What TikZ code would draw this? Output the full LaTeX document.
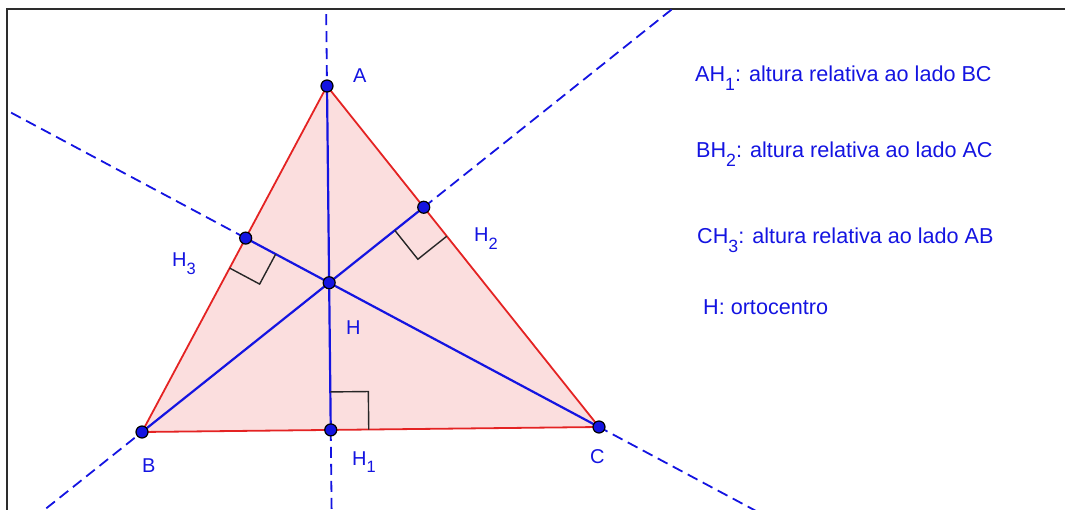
\documentclass[tikz,border=0pt]{standalone}
\usepackage{fontspec}
\setmainfont{Liberation Sans}
\usepackage{tikz}
\usetikzlibrary{calc}
\definecolor{ggblue}{RGB}{20,20,225}
\definecolor{ggred}{RGB}{228,35,35}
\definecolor{ggfill}{RGB}{251,222,222}
\definecolor{framegray}{RGB}{45,45,45}
\newcommand{\lowsub}[1]{\raisebox{-0.38em}{\scalebox{0.82}{#1}}}

\begin{document}
\begin{tikzpicture}[
    x=1pt, y=-1pt,
    dot/.style={circle, draw=black, fill=ggblue, line width=1.2pt, inner sep=0pt, minimum size=12pt},
    lbl/.style={anchor=base west, text=ggblue, inner sep=0pt, font=\fontsize{20}{24}\selectfont},
    note/.style={anchor=base west, text=ggblue, inner sep=0pt, font=\fontsize{21.6}{26}\selectfont},
    side/.style={draw=ggred, line width=1.8pt},
    alt/.style={draw=ggblue, line width=2.2pt},
    ext/.style={draw=ggblue, line width=1.8pt, dash pattern=on 11pt off 6pt},
    mark90/.style={draw=black!85, line width=1.4pt},
    frameline/.style={draw=framegray, line width=2pt}
]
    \useasboundingbox (0,0) rectangle (1065,510);
    \draw[frameline] (7,510) -- (7,9) -- (1065,9);

    \coordinate (A) at (327,86);
    \coordinate (B) at (142,432);
    \coordinate (C) at (599,427);
    \coordinate (H1) at ($(B)!(A)!(C)$);
    \coordinate (H2) at ($(A)!(B)!(C)$);
    \coordinate (H3) at ($(A)!(C)!(B)$);
    \coordinate (H) at (intersection of A--H1 and B--H2);

    \fill[ggfill] (A) -- (B) -- (C) -- cycle;

    \begin{scope}
        \clip (8,10) rectangle (1065,510);
        \draw[ext] ($(A)!-1!(H1)$) -- (A);
        \draw[ext] (H1) -- ($(A)!2!(H1)$);
        \draw[ext] ($(B)!-1!(H2)$) -- (B);
        \draw[ext] (H2) -- ($(B)!3!(H2)$);
        \draw[ext] ($(C)!-1!(H3)$) -- (C);
        \draw[ext] (H3) -- ($(C)!3!(H3)$);
    \end{scope}

    \draw[alt] (A) -- (H1);
    \draw[alt] (B) -- (H2);
    \draw[alt] (C) -- (H3);
    \draw[side] (A) -- (B) -- (C) -- cycle;

    \coordinate (m1a) at ($(H1)!38pt!(A)$);
    \coordinate (m1b) at ($(H1)!38pt!(C)$);
    \coordinate (m2a) at ($(H2)!37pt!(B)$);
    \coordinate (m2b) at ($(H2)!37pt!(C)$);
    \coordinate (m3a) at ($(H3)!34pt!(C)$);
    \coordinate (m3b) at ($(H3)!34pt!(B)$);
    \draw[mark90] (m1a) -- ($(m1a)+(m1b)-(H1)$) -- (m1b);
    \draw[mark90] (m2a) -- ($(m2a)+(m2b)-(H2)$) -- (m2b);
    \draw[mark90] (m3a) -- ($(m3a)+(m3b)-(H3)$) -- (m3b);

    \node[dot] (dA) at (A) {};
    \node[dot] (dB) at (B) {};
    \node[dot] (dC) at (C) {};
    \node[dot] (dH1) at (H1) {};
    \node[dot] (dH2) at (H2) {};
    \node[dot] (dH3) at (H3) {};
    \node[dot] (dH) at (H) {};

    \node[lbl] (labA) at (353,83) {A};
    \node[lbl] (labB) at (142,472) {B};
    \node[lbl] (labC) at (590,463) {C};
    \node[lbl] (labH1) at (352,465) {H\lowsub{1}};
    \node[lbl] (labH2) at (474,242) {H\lowsub{2}};
    \node[lbl] (labH3) at (172,267) {H\lowsub{3}};
    \node[lbl] (labH) at (346,335) {H};

    \node[note] (noteA) at (695,82) {AH\lowsub{1}: altura relativa ao lado BC};
    \node[note] (noteB) at (696,158) {BH\lowsub{2}: altura relativa ao lado AC};
    \node[note] (noteC) at (697,244) {CH\lowsub{3}: altura relativa ao lado AB};
    \node[note] (noteH) at (703,315) {H: ortocentro};
\end{tikzpicture}
\end{document}
